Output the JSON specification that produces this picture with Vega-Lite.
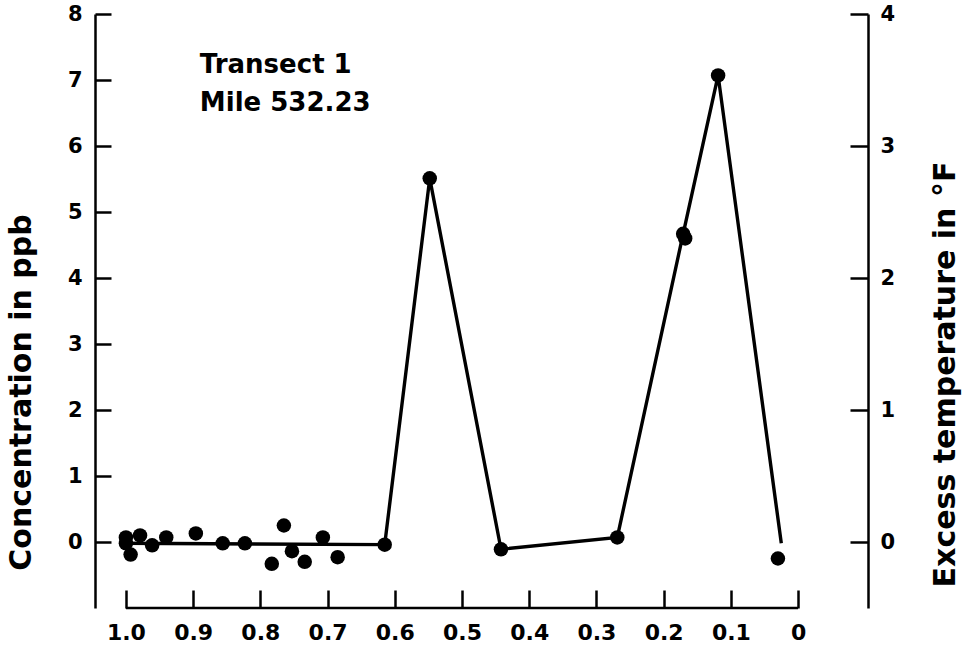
{
  "$schema": "https://vega.github.io/schema/vega-lite/v6.json",
  "width": 773,
  "height": 594,
  "autosize": {"type": "none"},
  "padding": {"left": 95, "top": 14, "right": 94, "bottom": 42},
  "background": "white",
  "config": {
    "view": {"stroke": null},
    "font": "DejaVu Sans",
    "axis": {
      "grid": false,
      "domainColor": "black",
      "domainWidth": 2.5,
      "tickColor": "black",
      "tickWidth": 2.5,
      "labelColor": "black",
      "labelFont": "DejaVu Sans",
      "labelFontWeight": "bold",
      "labelFlush": false,
      "labelOverlap": false,
      "titleColor": "black",
      "titleFont": "DejaVu Sans",
      "titleFontWeight": "bold"
    }
  },
  "datasets": {
    "profile": [
      {"distance": 1.0, "conc": -0.02},
      {"distance": 0.615, "conc": -0.04},
      {"distance": 0.548, "conc": 5.51},
      {"distance": 0.442, "conc": -0.11},
      {"distance": 0.269, "conc": 0.07},
      {"distance": 0.171, "conc": 4.67},
      {"distance": 0.119, "conc": 7.07},
      {"distance": 0.025, "conc": -0.02}
    ],
    "samples": [
      {"distance": 1.0, "conc": 0.07},
      {"distance": 1.0, "conc": -0.02},
      {"distance": 0.993, "conc": -0.19},
      {"distance": 0.979, "conc": 0.10},
      {"distance": 0.961, "conc": -0.05},
      {"distance": 0.940, "conc": 0.07},
      {"distance": 0.896, "conc": 0.13},
      {"distance": 0.856, "conc": -0.02},
      {"distance": 0.823, "conc": -0.02},
      {"distance": 0.783, "conc": -0.33},
      {"distance": 0.765, "conc": 0.25},
      {"distance": 0.753, "conc": -0.14},
      {"distance": 0.734, "conc": -0.30},
      {"distance": 0.707, "conc": 0.07},
      {"distance": 0.685, "conc": -0.23},
      {"distance": 0.615, "conc": -0.04},
      {"distance": 0.548, "conc": 5.51},
      {"distance": 0.442, "conc": -0.11},
      {"distance": 0.269, "conc": 0.07},
      {"distance": 0.171, "conc": 4.67},
      {"distance": 0.168, "conc": 4.60},
      {"distance": 0.119, "conc": 7.07},
      {"distance": 0.030, "conc": -0.25}
    ]
  },
  "layer": [
    {
      "layer": [
        {
          "data": {"name": "profile"},
          "mark": {"type": "line", "color": "black", "strokeWidth": 3.4},
          "encoding": {
            "x": {
              "field": "distance",
              "type": "quantitative",
              "scale": {"domain": [-0.104, 1.046], "reverse": true, "nice": false, "zero": false},
              "axis": {
                "orient": "bottom",
                "title": null,
                "domain": false,
                "values": [1.0, 0.9, 0.8, 0.7, 0.6, 0.5, 0.4, 0.3, 0.2, 0.1, 0],
                "labelExpr": "datum.value == 0 ? '0' : format(datum.value, '.1f')",
                "tickSize": -18,
                "labelPadding": 32,
                "labelFontSize": 22
              }
            },
            "y": {
              "field": "conc",
              "type": "quantitative",
              "scale": {"domain": [-1, 8], "nice": false, "zero": false},
              "axis": {
                "orient": "left",
                "title": "Concentration in ppb",
                "values": [0, 1, 2, 3, 4, 5, 6, 7, 8],
                "format": "d",
                "tickSize": -16,
                "labelPadding": 29,
                "labelFontSize": 21,
                "titleFontSize": 30,
                "titlePadding": 31,
                "titleY": 378
              }
            }
          }
        },
        {
          "data": {"name": "samples"},
          "mark": {"type": "point", "shape": "circle", "filled": true, "color": "black", "opacity": 1, "size": 210},
          "encoding": {
            "x": {"field": "distance", "type": "quantitative"},
            "y": {"field": "conc", "type": "quantitative"}
          }
        },
        {
          "data": {"values": [{}]},
          "mark": {"type": "rule", "color": "black", "strokeWidth": 2.5},
          "encoding": {
            "x": {"datum": 1.0, "type": "quantitative"},
            "x2": {"datum": 0},
            "y": {"datum": -1, "type": "quantitative"}
          }
        },
        {
          "data": {"values": [{}]},
          "mark": {
            "type": "text",
            "align": "left",
            "baseline": "alphabetic",
            "font": "DejaVu Sans",
            "fontWeight": "bold",
            "fontSize": 26,
            "lineHeight": 38,
            "lineBreak": "\n",
            "color": "black"
          },
          "encoding": {
            "x": {"datum": 0.89, "type": "quantitative"},
            "y": {"datum": 7.11, "type": "quantitative"},
            "text": {"value": "Transect 1\nMile 532.23"}
          }
        }
      ]
    },
    {
      "data": {"values": [{}]},
      "mark": {"type": "rule", "opacity": 0},
      "encoding": {
        "y": {
          "datum": 0,
          "type": "quantitative",
          "scale": {"domain": [-0.5, 4], "nice": false, "zero": false},
          "axis": {
            "orient": "right",
            "title": "Excess temperature in °F",
            "values": [0, 1, 2, 3, 4],
            "format": "d",
            "tickSize": -18,
            "labelPadding": 30,
            "labelFontSize": 21,
            "titleFontSize": 30,
            "titleAngle": 270,
            "titlePadding": 66,
            "titleY": 360
          }
        }
      }
    }
  ],
  "resolve": {"scale": {"y": "independent"}}
}
